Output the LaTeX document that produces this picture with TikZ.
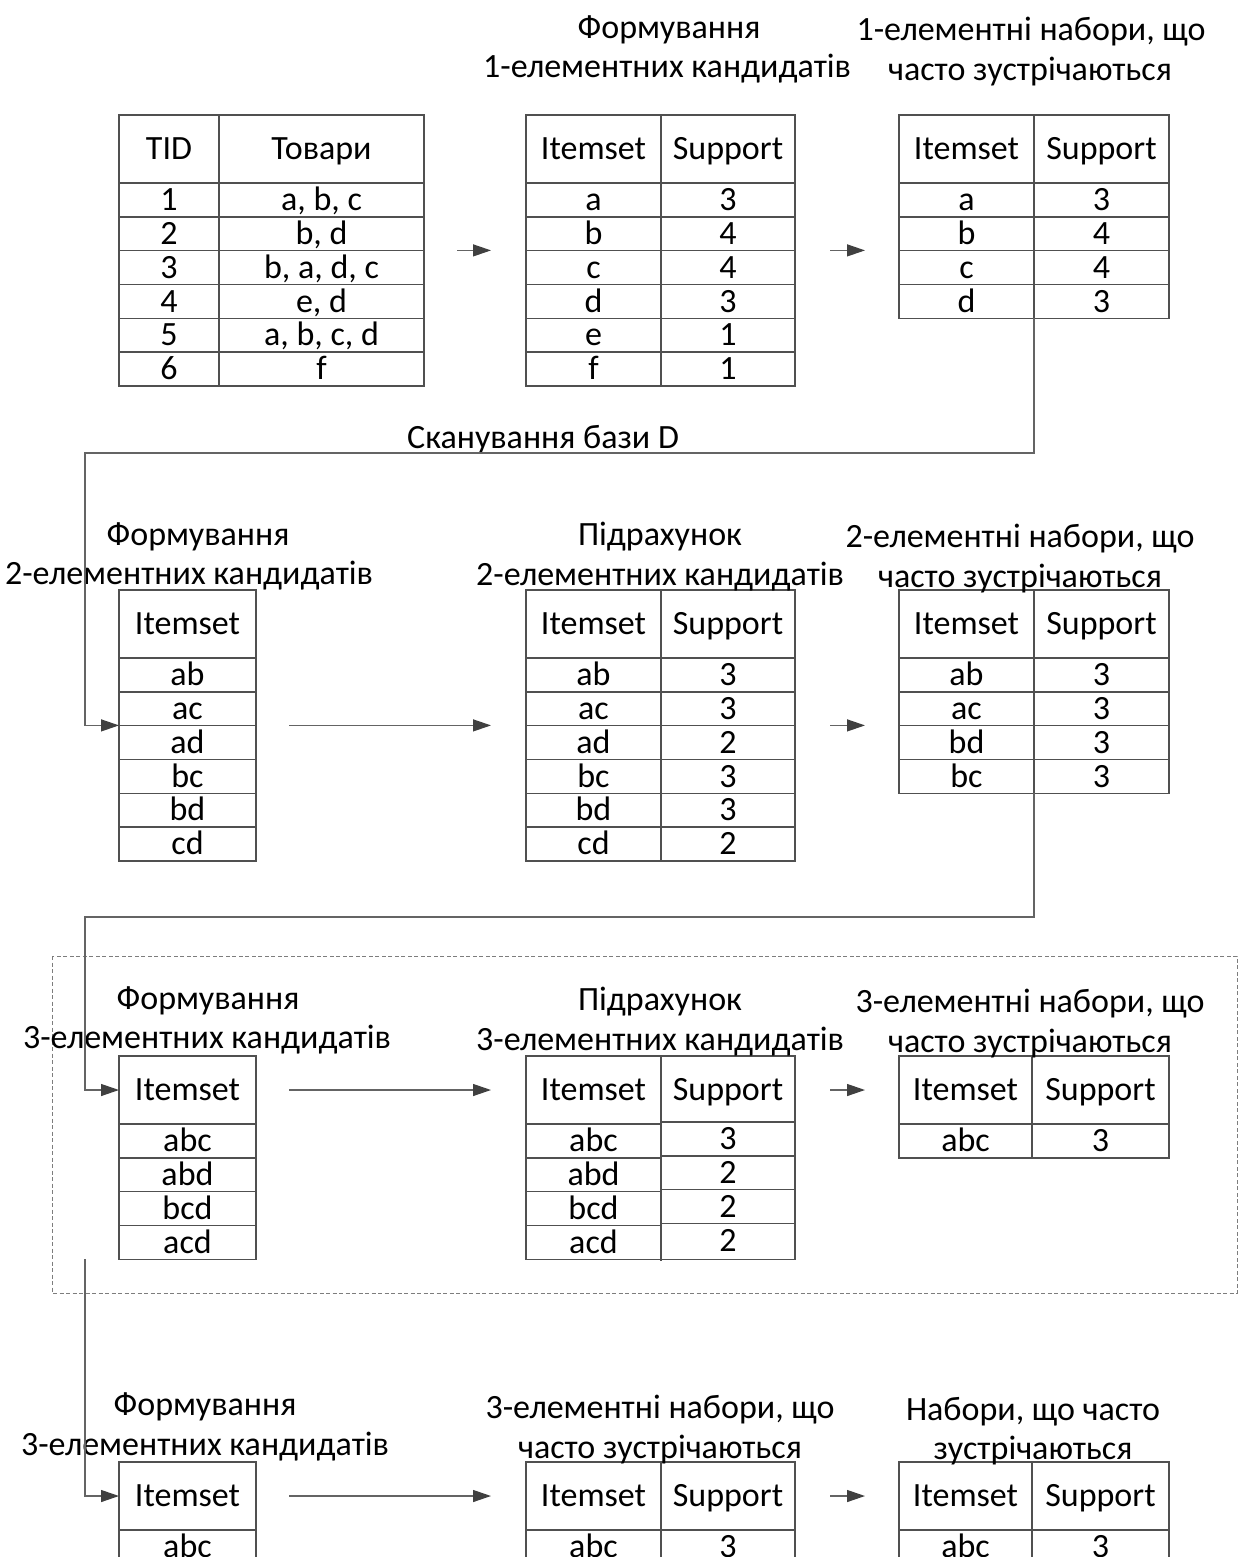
\documentclass[tikz,border=0pt]{standalone}
\usepackage{fontspec}
\setmainfont{Carlito}
\usetikzlibrary{arrows.meta,calc}

\definecolor{frame}{RGB}{80,80,80}
\definecolor{wire}{RGB}{100,100,100}
\definecolor{tip}{RGB}{64,64,64}
\definecolor{dashc}{RGB}{125,125,125}

\tikzset{
  txt/.style={font=\fontsize{34}{40}\selectfont, inner sep=0pt, anchor=base},
  tline/.style={draw=frame, line width=1.4pt},
  tframe/.style={tline, anchor=north west, inner sep=0pt, outer sep=0pt},
  tcell/.style={anchor=north west, inner sep=0pt, outer sep=0pt},
  arr/.style={draw=wire, line width=1.3pt, -{Triangle[length=18pt,width=12pt,color=tip]}},
  stagebox/.style={draw=dashc, line width=1pt, dash pattern=on 4pt off 2.5pt},
}

% two-column table: name, left x, divider x, right x, top y, rows, heading 1, heading 2, rows a/b
\newcommand\tabtwo[9]{%
  \node[tframe, minimum width={(#4-#2)*1pt}, minimum height={(68+33.8*#6)*1pt}] (#1) at (#2,#5) {};
  \node[tcell, minimum width={(#4-#2)*1pt}, minimum height=68pt] (#1h) at (#2,#5) {};
  \draw[tline] (#3,#5) -- (#3,{#5+68+33.8*#6});
  \node[txt] (#1h1) at ({(#2+#3)/2},{#5+44.8}) {#7};
  \node[txt] (#1h2) at ({(#3+#4)/2},{#5+44.8}) {#8};
  \foreach \a/\b [count=\n] in {#9} {
    \draw[tline] (#2,{#5+68+33.8*(\n-1)}) -- (#4,{#5+68+33.8*(\n-1)});
    \node[txt] (#1a\n) at ({(#2+#3)/2},{#5+68+33.8*\n-6.1}) {\a};
    \node[txt] (#1b\n) at ({(#3+#4)/2},{#5+68+33.8*\n-6.1}) {\b};
  }%
}

% one-column candidate table: name, left x, right x, top y, rows, items
\newcommand\tabone[6]{%
  \node[tframe, minimum width={(#3-#2)*1pt}, minimum height={(68+33.8*#5)*1pt}] (#1) at (#2,#4) {};
  \node[tcell, minimum width={(#3-#2)*1pt}, minimum height=68pt] (#1h) at (#2,#4) {};
  \node[txt] (#1h1) at ({(#2+#3)/2},{#4+44.8}) {Itemset};
  \foreach \a [count=\n] in {#6} {
    \draw[tline] (#2,{#4+68+33.8*(\n-1)}) -- (#3,{#4+68+33.8*(\n-1)});
    \node[txt] (#1a\n) at ({(#2+#3)/2},{#4+68+33.8*\n-6.1}) {\a};
  }%
}

\begin{document}
\begin{tikzpicture}[x=1pt,y=-1pt]
\useasboundingbox (0,0) rectangle (1238,1557);
\clip (0,0) rectangle (1238,1557);

% ---------- pass 1 ----------
\tabtwo{t1}{119}{219}{424}{115}{6}{TID}{Товари}{1/{a, b, c},2/{b, d},3/{b, a, d, c},4/{e, d},5/{a, b, c, d},6/f}
\tabtwo{t2}{526}{661}{795}{115}{6}{Itemset}{Support}{a/3,b/4,c/4,d/3,e/1,f/1}
\tabtwo{t3}{899}{1034}{1169}{115}{4}{Itemset}{Support}{a/3,b/4,c/4,d/3}

\node[txt] (l1a) at (669,39) {Формування};
\node[txt] (l1b) at (667,78) {1-елементних кандидатів};
\node[txt] (l2a) at (1031,41) {1-елементні набори, що};
\node[txt] (l2b) at (1030,81) {часто зустрічаються};

\draw[arr] ($(t1.east)+(33,0)$) -- ($(t2.west)+(-35,0)$);
\draw[arr] ($(t2.east)+(35,0)$) -- ($(t2.east -| t3.west)+(-34,0)$);

% ---------- pass 2 ----------
\tabone{t4}{119}{256}{590}{6}{ab,ac,ad,bc,bd,cd}
\tabtwo{t5}{526}{661}{795}{590}{6}{Itemset}{Support}{ab/3,ac/3,ad/2,bc/3,bd/3,cd/2}
\tabtwo{t6}{899}{1034}{1169}{590}{4}{Itemset}{Support}{ab/3,ac/3,bd/3,bc/3}

\node[txt] (l3a) at (198,545) {Формування};
\node[txt] (l3b) at (189,584) {2-елементних кандидатів};
\node[txt] (l4a) at (660,545) {Підрахунок};
\node[txt] (l4b) at (660,585) {2-елементних кандидатів};
\node[txt] (l5a) at (1020,547) {2-елементні набори, що};
\node[txt] (l5b) at (1020,587) {часто зустрічаються};

\coordinate (b1) at (85,453);
\node[txt] (scan) at (543,448) {Сканування бази D};
\draw[arr] (t3.south) |- (b1) |- (t4.west);

\draw[arr] ($(t4.east)+(33,0)$) -- ($(t5.west)+(-35,0)$);
\draw[arr] ($(t5.east)+(35,0)$) -- ($(t5.east -| t6.west)+(-34,0)$);

% ---------- pass 3 ----------
\draw[stagebox] (52,956) rectangle (1237,1293);

\tabone{t7}{119}{256}{1056}{4}{abc,abd,bcd,acd}

% support column of the counting table sits slightly higher
\node[tframe, minimum width=269pt, minimum height={(68+4*33.8)*1pt}] (t8) at (526,1056) {};
\node[tcell, minimum width=269pt, minimum height=68pt] (t8h) at (526,1056) {};
\draw[tline] (661,1056) -- (661,1261.2);
\foreach \k in {0,...,3} {
  \draw[tline] (526,{1124+33.8*\k}) -- (661,{1124+33.8*\k});
  \draw[tline] (661,{1122+33.8*\k}) -- (795,{1122+33.8*\k});
}
\node[txt] (t8h1) at (593.5,1100.8) {Itemset};
\node[txt] (t8h2) at (728,1100.8) {Support};
\foreach \a/\b [count=\n] in {abc/3,abd/2,bcd/2,acd/2} {
  \node[txt] (t8a\n) at (593.5,{1124+33.8*\n-6.1}) {\a};
  \node[txt] (t8b\n) at (728,{1122+33.8*\n-6.1}) {\b};
}

\tabtwo{t9}{899}{1032}{1169}{1056}{1}{Itemset}{Support}{abc/3}

\node[txt] (l6a) at (208,1009) {Формування};
\node[txt] (l6b) at (207,1048) {3-елементних кандидатів};
\node[txt] (l7a) at (660,1010) {Підрахунок};
\node[txt] (l7b) at (660,1050) {3-елементних кандидатів};
\node[txt] (l8a) at (1030,1012) {3-елементні набори, що};
\node[txt] (l8b) at (1030,1052) {часто зустрічаються};

\coordinate (b2) at (85,917);
\draw[arr] (t6.south) |- (b2) |- (t7h.west);

\draw[arr] ($(t7h.east)+(33,0)$) -- ($(t8h.west)+(-35,0)$);
\draw[arr] ($(t8h.east)+(35,0)$) -- ($(t9h.west)+(-34,0)$);

% ---------- result ----------
\tabone{t10}{119}{256}{1462}{1}{abc}
\tabtwo{t11}{526}{661}{795}{1462}{1}{Itemset}{Support}{abc/3}
\tabtwo{t12}{899}{1032}{1169}{1462}{1}{Itemset}{Support}{abc/3}

\node[txt] (l9a) at (205,1415) {Формування};
\node[txt] (l9b) at (205,1455) {3-елементних кандидатів};
\node[txt] (l10a) at (660,1418) {3-елементні набори, що};
\node[txt] (l10b) at (660,1458) {часто зустрічаються};
\node[txt] (l11a) at (1033,1420) {Набори, що часто};
\node[txt] (l11b) at (1033,1459) {зустрічаються};

\coordinate (c3) at (85,1259);
\draw[arr] (c3) |- (t10h.west);

\draw[arr] ($(t10h.east)+(33,0)$) -- ($(t11h.west)+(-35,0)$);
\draw[arr] ($(t11h.east)+(35,0)$) -- ($(t12h.west)+(-34,0)$);
\end{tikzpicture}
\end{document}
